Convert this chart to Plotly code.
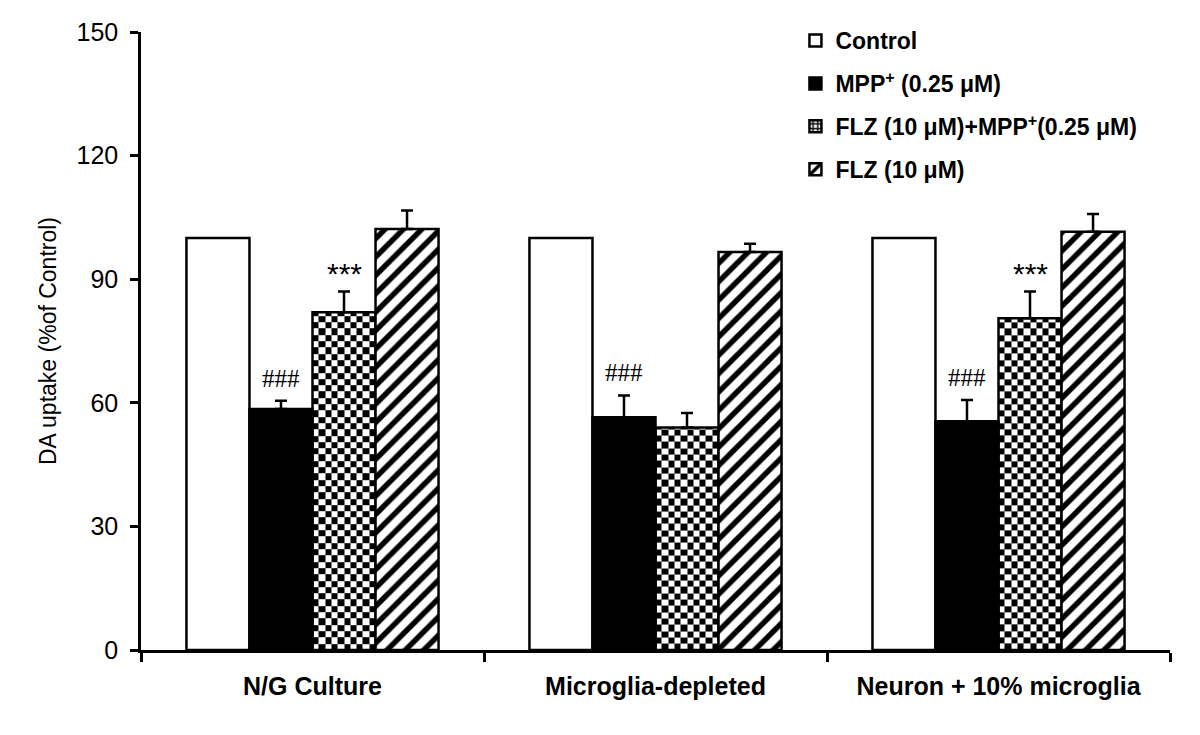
import numpy as np
import plotly.graph_objects as go

# ---------------- data ----------------
categories = ["N/G Culture", "Microglia-depleted", "Neuron + 10% microglia"]
series_names = [
    "Control",
    "MPP<sup>+</sup> (0.25 μM)",
    "FLZ (10 μM)+MPP<sup>+</sup>(0.25 μM)",
    "FLZ (10 μM)",
]
control = [100, 100, 100]
mpp = [58.5, 56.5, 55.5]
mpp_err = [2.0, 5.3, 5.2]
flz_mpp = [82, 54, 80.5]
flz_mpp_err = [5.0, 3.5, 6.5]
flz = [102.2, 96.6, 101.5]
flz_err = [4.5, 2.0, 4.3]

mpp_marks = ["###", "###", "###"]
flz_mpp_marks = ["***", "", "***"]

y_ticks = [0, 30, 60, 90, 120, 150]

# ---------------- layout constants ----------------
W, H = 1200, 735
PAGE_OFF = 8  # default body margin of the html page
ML, MR, MT, MB = 141 - PAGE_OFF, 30 + PAGE_OFF, 32 - PAGE_OFF, 85 + PAGE_OFF
BARGAP = 0.265
NBARS = 4
FONT = "Arial, Liberation Sans, sans-serif"
LW = 2.5

plot_w = W - ML - MR
plot_h = H - MT - MB
bw = (1 - BARGAP) / NBARS
x_idx = np.arange(len(categories))


def bar_center(k):
    return x_idx - (1 - BARGAP) / 2 + (k + 0.5) * bw


fig = go.Figure()

# ---- checkerboard fill for the FLZ+MPP bars (heatmap under the bar outline) ----
n_cells_x = 10
px_per_x = plot_w / 3.0
px_per_y = plot_h / 150.0
cell_px = bw / n_cells_x * px_per_x
dy = cell_px / px_per_y
for i, v in enumerate(flz_mpp):
    left = bar_center(2)[i] - bw / 2
    xe = np.linspace(left, left + bw, n_cells_x + 1)
    ye = list(np.arange(0, v, dy))
    if v - ye[-1] < 1e-6:
        ye = ye[:-1]
    ye.append(v)
    z = [[(j + k) % 2 for k in range(n_cells_x)] for j in range(len(ye) - 1)]
    fig.add_trace(go.Heatmap(
        x=xe, y=ye, z=z, zmin=0, zmax=1,
        colorscale=[[0, "white"], [1, "black"]],
        showscale=False, hoverinfo="skip", zsmooth=False,
    ))

err_style = dict(type="data", symmetric=False, color="black", thickness=LW, width=6)


def add_bar(k, y, err, name, color, pattern=None, showlegend=True):
    kw = {}
    if err is not None:
        kw["error_y"] = dict(array=err, arrayminus=[0] * len(err), **err_style)
    fig.add_trace(go.Bar(
        x=x_idx, y=y, name=name, offsetgroup=str(k), legendgroup=str(k),
        showlegend=showlegend,
        marker=dict(color=color, line=dict(color="black", width=LW),
                    pattern=pattern if pattern else {}),
        **kw,
    ))


add_bar(0, control, None, series_names[0], "white")
add_bar(1, mpp, mpp_err, series_names[1], "black")
add_bar(2, flz_mpp, flz_mpp_err, series_names[2], "rgba(0,0,0,0)", showlegend=False)
# legend entry for checkerboard series
fig.add_trace(go.Bar(
    x=[None], y=[None], name=series_names[2], offsetgroup="2", legendgroup="2",
    marker=dict(color="white", line=dict(color="black", width=LW),
                pattern=dict(shape="+", fgcolor="black", bgcolor="white", size=6,
                             solidity=0.5, fgopacity=1)),
))
add_bar(3, flz, flz_err, series_names[3], "white",
        pattern=dict(shape="/", fgcolor="black", bgcolor="white", size=13,
                     solidity=0.42, fgopacity=1, fillmode="replace"))

# significance marks
annotations = []
c1 = bar_center(1)
c2 = bar_center(2)
for i in range(len(categories)):
    if mpp_marks[i]:
        annotations.append(dict(
            x=c1[i], y=mpp[i] + mpp_err[i], text=mpp_marks[i], showarrow=False,
            xref="x", yref="y", yanchor="bottom", yshift=7,
            font=dict(family="Liberation Serif, Times New Roman, serif", size=25, color="black")))
    if flz_mpp_marks[i]:
        annotations.append(dict(
            x=c2[i], y=flz_mpp[i] + flz_mpp_err[i], text=flz_mpp_marks[i], showarrow=False,
            xref="x", yref="y", yanchor="bottom", yshift=0,
            font=dict(family=FONT, size=30, color="black")))

fig.update_layout(
    width=W, height=H,
    margin=dict(l=ML, r=MR, t=MT, b=MB, autoexpand=False),
    paper_bgcolor="white", plot_bgcolor="white",
    barmode="group", bargap=BARGAP, bargroupgap=0,
    font=dict(family=FONT, color="black"),
    annotations=annotations,
    legend=dict(
        x=0.636, y=0.985, xanchor="left", yanchor="top", yref="container",
        traceorder="grouped", tracegroupgap=10,
        font=dict(family=FONT, size=23, color="black", weight="bold"),
        bgcolor="rgba(0,0,0,0)",
    ),
    xaxis=dict(
        range=[-0.5, 2.5], showline=True, linecolor="black", linewidth=LW,
        tickvals=list(x_idx), ticktext=categories, ticks="",
        tickfont=dict(family=FONT, size=25, color="black", weight="bold"),
        ticklabelstandoff=12,
        minor=dict(tickvals=[-0.5, 0.5, 1.5, 2.5], ticks="outside", ticklen=9,
                   tickwidth=LW, tickcolor="black"),
        showgrid=False, zeroline=False, fixedrange=True,
    ),
    yaxis=dict(
        range=[0, 150], showline=True, linecolor="black", linewidth=LW,
        tickvals=y_ticks, ticks="outside", ticklen=8, tickwidth=LW, tickcolor="black",
        tickfont=dict(family=FONT, size=25, color="black"),
        ticklabelstandoff=7,
        title=dict(text="DA uptake (%of Control)", standoff=14,
                   font=dict(family=FONT, size=23, color="black")),
        showgrid=False, zeroline=False, fixedrange=True,
    ),
)

fig.write_html("out.html")
